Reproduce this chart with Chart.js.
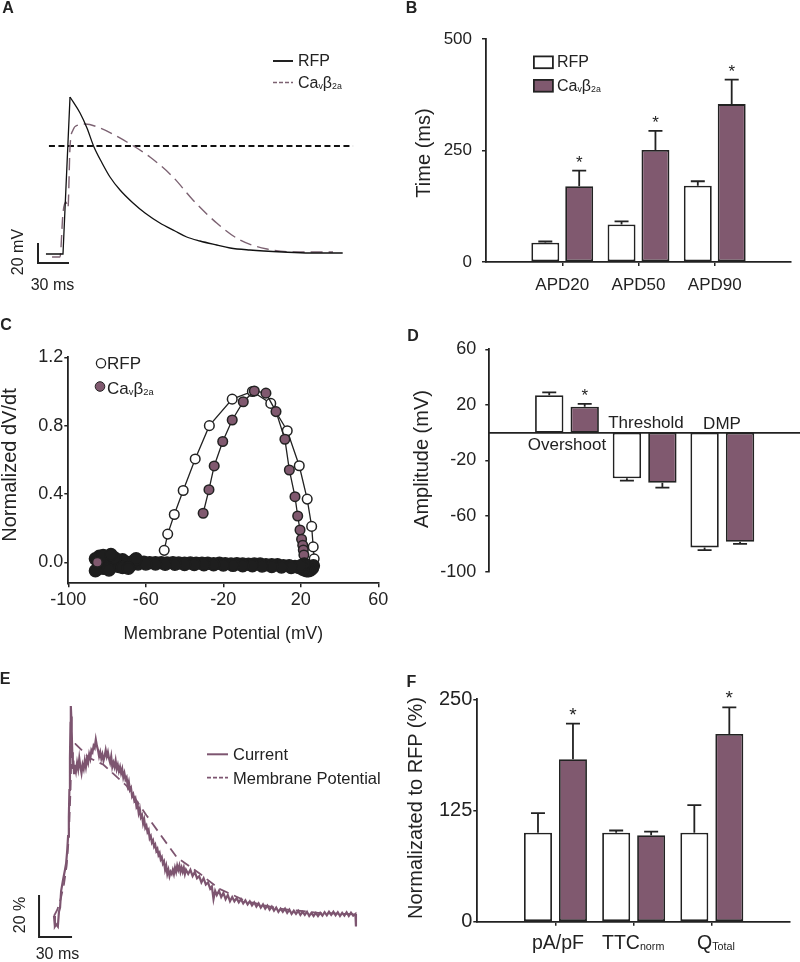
<!DOCTYPE html>
<html>
<head>
<meta charset="utf-8">
<script src="https://cdn.jsdelivr.net/npm/chart.js@4.4.1/dist/chart.umd.min.js"></script>
<style>
  body { margin: 0; background: #fff; }
  #fig { position: relative; width: 800px; height: 962px; overflow: hidden;
         font-family: 'Liberation Sans', Arial, sans-serif; color: #222; }
  #fig canvas { position: absolute; }
  #marks { position: absolute; left: 0; top: 0; pointer-events: none; }
  .t { position: absolute; white-space: nowrap; line-height: 1; }
  .c { transform: translate(-50%, -50%); }
  .rot { transform: translate(-50%, -50%) rotate(-90deg); }
  .lb { transform: translate(0, -50%); }
  .letter { font-weight: bold; font-size: 16px; }
  sub { font-size: 0.55em; line-height: 0; position: relative; top: 0.1em; vertical-align: baseline; }
</style>
</head>
<body>
<div id="fig">
  <canvas id="cA"></canvas>
  <canvas id="cB"></canvas>
  <canvas id="cC"></canvas>
  <canvas id="cD"></canvas>
  <canvas id="cE"></canvas>
  <canvas id="cF"></canvas>

  <svg id="marks" width="800" height="962">
    <!-- A legend -->
    <line x1="273" y1="61" x2="293" y2="61" stroke="#222" stroke-width="2"/>
    <line x1="273" y1="82.5" x2="293" y2="82.5" stroke="#7c6272" stroke-width="1.6" stroke-dasharray="4 2"/>
    <!-- B legend -->
    <rect x="533.9" y="56.4" width="19" height="11.8" fill="#fff" stroke="#222" stroke-width="1.8"/>
    <rect x="533.9" y="79.9" width="19" height="11.8" fill="#80596f" stroke="#222" stroke-width="1.8"/>
    <!-- C legend -->
    <circle cx="101" cy="363.3" r="4.6" fill="#fff" stroke="#222" stroke-width="1.3"/>
    <circle cx="100" cy="386.5" r="4.8" fill="#80596f" stroke="#222" stroke-width="1"/>
    <!-- E legend -->
    <line x1="207" y1="754.3" x2="228" y2="754.3" stroke="#7d5570" stroke-width="2"/>
    <line x1="207" y1="777.7" x2="228" y2="777.7" stroke="#7d5570" stroke-width="1.8" stroke-dasharray="4 2"/>
  </svg>

  <div class="t c letter" style="left:8px;top:8px">A</div>
  <div class="t c letter" style="left:411.5px;top:8px">B</div>
  <div class="t c letter" style="left:6px;top:325px">C</div>
  <div class="t c letter" style="left:413px;top:335.5px">D</div>
  <div class="t c letter" style="left:5px;top:678.5px">E</div>
  <div class="t c letter" style="left:411.5px;top:681.5px">F</div>

  <div class="t lb" style="left:298px;top:61px;font-size:16px">RFP</div>
  <div class="t lb" style="left:298px;top:83px;font-size:16px">Ca<sub>v</sub>β<sub>2a</sub></div>
  <div class="t rot" style="left:17.5px;top:252px;font-size:16px">20 mV</div>
  <div class="t c" style="left:52.5px;top:285px;font-size:16px">30 ms</div>

  <div class="t lb" style="left:557px;top:61.5px;font-size:16px">RFP</div>
  <div class="t lb" style="left:557px;top:86px;font-size:16px">Ca<sub>v</sub>β<sub>2a</sub></div>
  <div class="t rot" style="left:422.5px;top:152.5px;font-size:20px">Time (ms)</div>

  <div class="t lb" style="left:107px;top:363px;font-size:17px">RFP</div>
  <div class="t lb" style="left:107px;top:388px;font-size:17px">Ca<sub>v</sub>β<sub>2a</sub></div>
  <div class="t rot" style="left:9px;top:465px;font-size:20px">Normalized dV/dt</div>
  <div class="t c" style="left:223.3px;top:634px;font-size:17.5px">Membrane Potential (mV)</div>

  <div class="t rot" style="left:421px;top:459px;font-size:20px">Amplitude (mV)</div>
  <div class="t c" style="left:567px;top:444px;font-size:17px">Overshoot</div>
  <div class="t c" style="left:646px;top:422px;font-size:17px">Threshold</div>
  <div class="t c" style="left:722px;top:422.5px;font-size:17px">DMP</div>

  <div class="t lb" style="left:233px;top:754px;font-size:16.5px">Current</div>
  <div class="t lb" style="left:233px;top:778px;font-size:16.5px">Membrane Potential</div>
  <div class="t rot" style="left:20px;top:915px;font-size:16px">20 %</div>
  <div class="t c" style="left:57.5px;top:954px;font-size:16px">30 ms</div>

  <div class="t rot" style="left:415px;top:808px;font-size:20px">Normalizated to RFP (%)</div>
  <div class="t lb" style="left:532px;top:942.5px;font-size:19.5px">pA/pF</div>
  <div class="t lb" style="left:602px;top:942.5px;font-size:19.5px">TTC<sub>norm</sub></div>
  <div class="t lb" style="left:697px;top:942.5px;font-size:19.5px">Q<sub>Total</sub></div>
</div>

<script>
// ---------- data ----------
const PURPLE = '#80596f';
const TRACE = '#7d5570';
const INK = '#222';

// A: action potentials, [ms, mV]; scale bar 30 ms / 20 mV
const aRfp = [[7.7, -80], [24.2, -80], [31, 77], [40.7, 61], [47.4, 46], [54.2, 27], [62, 11],
  [69.7, -3], [79.4, -16], [92, -29], [103.6, -39], [118, -49], [132.6, -57], [144, -63],
  [156.8, -67], [173, -71], [186, -74], [205, -76], [237, -78], [263, -79], [295, -79]];
const aRfpPeak = 2;
const aCa = [[13.6, -83], [21.3, -83], [24.2, -39], [27.1, -28], [29, -34], [31, 27], [33.9, 44],
  [38.7, 49], [45.5, 50], [60, 46], [86, 32], [108.4, 17], [130.7, -3], [150, -26], [173, -49],
  [195.5, -66], [221.7, -75], [253.6, -78], [285.6, -78]];
const aThreshold = [[10.6, 28], [305, 28]];
const aScaleBar = [[0, -69], [0, -89], [30, -89]];

// B: action potential duration (ms)
const bCats = ['APD20', 'APD50', 'APD90'];
const bRfp = [43, 84, 171];
const bRfpErr = [3, 7, 10];
const bCa = [170, 251, 354];
const bCaErr = [35, 43, 55];
const bCaStar = [1, 1, 1];

// C: phase plot, [mV, normalized dV/dt]
const cRfp = [[-50.5, 0.07], [-48.7, 0.165], [-45.3, 0.28], [-40.7, 0.42], [-34.5, 0.605],
  [-27.2, 0.80], [-15.4, 0.955], [-5.0, 1.0], [4.5, 0.93], [13.0, 0.77], [19.2, 0.565],
  [23.3, 0.37], [25.6, 0.21], [26.4, 0.09], [26.9, 0.02]];
const cCa = [[-30.4, 0.287], [-27.4, 0.425], [-24.7, 0.564], [-20.3, 0.707], [-15.4, 0.833],
  [-9.7, 0.94], [-4.0, 1.003], [2.0, 0.99], [7.2, 0.882], [11.8, 0.72], [14.1, 0.54], [17.0, 0.384],
  [18.4, 0.271], [19.6, 0.189], [20.4, 0.135], [21.0, 0.10], [21.3, 0.072], [21.6, 0.043]];
// dense repolarisation points of both cells piled up near zero
const cBand = [[26.5, -0.02], [26, -0.035], [25, -0.045], [24, -0.05], [23, -0.05], [22, -0.045],
  [21, -0.04], [21.8, -0.01], [19, -0.03], [17, -0.025], [14, -0.02], [11, -0.02], [8, -0.015],
  [5, -0.015], [2, -0.015], [-1, -0.01], [-4, -0.01], [-7, -0.012], [-10, -0.01], [-13, -0.008],
  [-16, -0.01], [-19, -0.008], [-22, -0.006], [-25, -0.008], [-28, -0.006], [-31, -0.005],
  [-34, -0.006], [-37, -0.004], [-40, -0.005], [-43, -0.004], [-46, -0.003], [-49, -0.004],
  [-52, -0.002], [-55, -0.003], [-58, -0.002], [-61, 0.0], [-64, -0.01], [-66, 0.01], [-68, -0.02],
  [-70, 0.0], [-72, 0.015], [-74, -0.025], [-76, 0.02], [-78, -0.03], [-80, 0.03], [-82, -0.035],
  [-84, 0.035], [-85, -0.04], [-86, 0.02], [-84, -0.02], [-80, -0.03], [-76, 0.025], [-72, -0.03],
  [20, -0.02], [15, -0.03], [10, -0.028], [5, -0.025], [0, -0.022], [-5, -0.02], [-10, -0.02],
  [-15, -0.018], [-20, -0.016], [-25, -0.015], [-30, -0.015], [-35, -0.013], [-40, -0.013],
  [-45, -0.012], [-50, -0.011], [-55, -0.01], [-60, -0.01], [-65, 0.02], [-69, -0.035],
  [-82, 0.04], [-78, 0.045], [-86, -0.05], [-79, -0.045]];
const cCaRest = [[-85, 0]];
const cTicksY = [0, 0.4, 0.8, 1.2];

// D: amplitudes (mV)
const dCats = ['Overshoot', 'Threshold', 'DMP'];
const dRfp = [27, -32.8, -82.5];
const dRfpErr = [2, 1.7, 2];
const dCa = [18.7, -36, -78.4];
const dCaErr = [2, 3.5, 1.6];
const dCaStar = [1, 0, 0];

// E: current vs membrane potential, [ms, %]
const eMembrane = [[0, 0], [3, 3], [6, 8], [9, 15], [11.5, 24], [13.5, 38], [15, 60], [16, 80],
  [17.5, 82], [19.4, 82], [29, 77], [31, 75.6], [45, 72], [66, 62], [75, 55], [84, 48],
  [111.5, 28], [133, 20], [150, 13], [175, 7], [205, 3.5], [240, 1.5], [275, 0.8]];
const eCurrent = [[0, 0], [0.8, -5], [2, -4], [3.5, -5], [4.5, 2], [5.5, 4], [6.5, 12], [7.5, 15],
  [8.5, 18], [10, 22], [11, 25], [12, 31], [12.8, 38], [13.5, 47], [14, 60], [14.5, 75], [15, 92],
  [15.3, 100], [15.7, 95], [16.1, 88], [16.6, 78], [17.1, 70], [17.6, 74], [18.2, 68], [19, 72],
  [20, 69], [21, 73], [22, 70], [23, 75], [24, 71], [25, 68], [26, 72], [27, 70], [28, 74], [29, 71],
  [30, 75], [31, 73], [32, 77], [33, 75], [34, 79], [35, 78], [36, 81], [37, 80], [38, 84], [39, 81],
  [40, 79], [41, 76], [42, 78], [43, 75], [44, 77], [45, 74], [46, 76], [47, 79], [48, 76], [49, 78],
  [50, 75], [51, 73], [52, 76], [53, 71], [54, 73], [55, 71], [56, 74], [57, 70], [58, 72], [59, 69],
  [60, 71], [61, 68], [62, 70], [63, 66], [64, 68], [65, 65], [66, 66], [67, 62], [68, 64], [69, 60],
  [70, 61], [71, 57], [72, 58], [73, 55], [74, 56], [75, 52], [76, 53], [77, 49], [78, 51], [79, 47],
  [80, 48], [81, 44], [82, 46], [83, 42], [84, 43], [85, 40], [86, 41], [87, 37], [88, 38], [89, 35],
  [90, 36], [91, 33], [92, 34], [93, 31], [94, 32], [95, 29], [96, 30], [97, 27], [98, 28], [99, 25],
  [100, 26], [101, 22], [102, 24], [103, 20], [104, 22], [105, 19], [106, 21], [107, 20], [108, 22],
  [109, 20], [110, 23], [111, 21], [112, 24], [113, 22], [114, 24], [115, 21], [116, 23], [117, 21],
  [118, 23], [119, 20], [120, 22], [122, 20], [124, 22], [126, 19], [128, 21], [130, 18], [132, 19],
  [134, 16], [136, 18], [138, 15], [140, 16], [142, 13], [143.5, 14], [145, 8], [146.5, 12], [148, 10],
  [150, 12], [152, 9], [154, 11], [156, 8], [158, 10], [160, 7], [162, 9], [164, 7], [166, 8.5],
  [168, 6.5], [170, 8], [172, 6], [174, 7.5], [176, 5.5], [178, 7], [180, 5], [182, 6.5], [184, 4.5],
  [186, 6], [188, 4], [190, 5.5], [192, 3.5], [194, 5], [196, 3], [198, 4.5], [200, 2.5], [202, 4],
  [204, 2], [206, 3.5], [208, 2], [210, 3.5], [212, 1.5], [214, 3], [216, 1], [218, 2.5], [220, 1],
  [222, 2.5], [224, 0.5], [226, 2], [228, 0.5], [230, 2], [232, 0], [234, 1.5], [236, 0], [238, 1.5],
  [240, 0], [242, 1.5], [244, 0.2], [246, 1.8], [248, 0.3], [250, 2], [252, 0.5], [254, 2], [256, 0.3],
  [258, 1.8], [260, 0], [262, 1.5], [264, 0.2], [266, 1.8], [268, 0], [270, 1.6], [272, 0.2],
  [274, 1], [274.5, -5]];
const eScaleBar = [[-13.6, 10], [-13.6, -10], [16.4, -10]];

// F: normalized to RFP (%)
const fCats = ['pA/pF', 'TTCnorm', 'QTotal'];
const fRfp = [100, 100, 100];
const fRfpErr = [22, 2.5, 31];
const fCa = [182.6, 97.2, 211];
const fCaErr = [40, 4, 30];
const fCaStar = [1, 0, 1];

// ---------- helpers ----------
Chart.defaults.font.family = "'Liberation Sans', Arial, sans-serif";
Chart.defaults.color = INK;
Chart.defaults.animation = false;

const YW = 60, XH = 40;   // fixed axis box sizes
const xy = pts => pts.map(p => ({ x: p[0], y: p[1] }));
const pad = (arr, fill = null) => [fill, ...arr, fill];
const fixFit = s => { if (s.isHorizontal()) s.height = XH; else s.width = YW; };
const edgeTicks = ctx => (ctx.index === 0 || ctx.index === 4) ? 'rgba(0,0,0,0)' : INK;

// canvas box + wanted chart area (page px) -> layout padding
function place(id, box, area, yw, xh) {
  const cv = document.getElementById(id);
  cv.width = box.w; cv.height = box.h;
  cv.style.left = box.x + 'px'; cv.style.top = box.y + 'px';
  return { left: area.l - box.x - yw, top: area.t - box.y,
           right: box.x + box.w - area.r, bottom: box.y + box.h - area.b - xh };
}

const errorBars = {
  id: 'errorBars',
  afterDatasetsDraw(chart, args, opts) {
    if (!opts.errors) return;
    const ctx = chart.ctx, ys = chart.scales.y;
    ctx.save();
    ctx.strokeStyle = INK; ctx.lineWidth = 1.8;
    chart.data.datasets.forEach((ds, i) => {
      const errs = opts.errors[i] || [];
      const stars = (opts.stars && opts.stars[i]) || [];
      chart.getDatasetMeta(i).data.forEach((bar, j) => {
        const v = ds.data[j], e = errs[j];
        if (v == null || e == null) return;
        const y0 = ys.getPixelForValue(v);
        const y1 = ys.getPixelForValue(v >= 0 ? v + e : v - e);
        ctx.beginPath();
        ctx.moveTo(bar.x, y0); ctx.lineTo(bar.x, y1);
        ctx.moveTo(bar.x - 7, y1); ctx.lineTo(bar.x + 7, y1);
        ctx.stroke();
        if (stars[j]) {
          ctx.fillStyle = INK;
          ctx.font = (opts.starSize || 17) + "px 'Liberation Sans', Arial, sans-serif";
          ctx.textAlign = 'center'; ctx.textBaseline = 'alphabetic';
          ctx.fillText('*', bar.x, y1 - 3);
        }
      });
    });
    ctx.restore();
  }
};

function barChart(id, box, area, cats, rfp, ca, yOpts, xOpts, plug, bp, cp, xInLayout) {
  const common = { borderColor: INK, borderWidth: 1.8, borderSkipped: false,
                   barPercentage: bp, categoryPercentage: cp };
  return new Chart(id, {
    type: 'bar',
    data: {
      labels: pad(cats, ''),
      datasets: [
        Object.assign({ label: 'RFP', data: pad(rfp), backgroundColor: '#fff' }, common),
        Object.assign({ label: 'CaVβ2a', data: pad(ca), backgroundColor: PURPLE }, common)
      ]
    },
    options: {
      responsive: false,
      layout: { padding: place(id, box, area, YW, xInLayout ? XH : 0) },
      plugins: { legend: { display: false }, tooltip: { enabled: false }, errorBars: plug },
      scales: {
        x: Object.assign({
          offset: false, afterFit: fixFit,
          grid: { offset: false, drawOnChartArea: false, tickLength: 4, tickColor: edgeTicks, lineWidth: 1.5 },
          border: { color: INK, width: 1.8 }
        }, xOpts),
        y: Object.assign({
          afterFit: fixFit,
          grid: { drawOnChartArea: false, tickLength: 4, tickColor: INK, lineWidth: 1.5 },
          border: { color: INK, width: 1.8 }
        }, yOpts)
      }
    },
    plugins: [errorBars]
  });
}

// ---------- A ----------
new Chart('cA', {
  type: 'line',
  data: {
    datasets: [
      { data: xy(aRfp.slice(0, aRfpPeak + 1)), borderColor: '#111', borderWidth: 1.3, tension: 0 },
      { data: xy(aRfp.slice(aRfpPeak)), borderColor: '#111', borderWidth: 1.3, cubicInterpolationMode: 'monotone' },
      { data: xy(aCa), borderColor: '#7c6272', borderWidth: 1.4, borderDash: [12, 6], cubicInterpolationMode: 'monotone' },
      { data: xy(aThreshold), borderColor: '#111', borderWidth: 2, borderDash: [6, 3.5] },
      { data: xy(aScaleBar), borderColor: INK, borderWidth: 2, tension: 0 }
    ]
  },
  options: {
    responsive: false,
    layout: { padding: place('cA', { x: 0, y: 0, w: 400, h: 310 }, { l: 38, t: 84, r: 358.2, b: 274 }, 0, 0) },
    elements: { point: { radius: 0 }, line: { fill: false } },
    datasets: { line: { clip: false } },
    plugins: { legend: { display: false }, tooltip: { enabled: false } },
    scales: {
      x: { type: 'linear', min: 0, max: 310, display: false },
      y: { type: 'linear', min: -100, max: 90, display: false }
    }
  }
});

// ---------- B ----------
barChart('cB', { x: 400, y: 0, w: 400, h: 310 }, { l: 486, t: 39, r: 792, b: 262 },
  bCats, bRfp, bCa,
  { min: 0, max: 500, ticks: { stepSize: 250, padding: 10, font: { size: 17 } } },
  { ticks: { autoSkip: false, maxRotation: 0, padding: 9, font: { size: 17 } } },
  { errors: [pad(bRfpErr), pad(bCaErr)], stars: [[], pad(bCaStar)], starSize: 17 },
  0.824, 0.889, true);

// ---------- C ----------
const dot = { showLine: true, borderColor: INK, borderWidth: 1.3, pointRadius: 4.8,
              pointBorderWidth: 1.5, pointBorderColor: INK };
new Chart('cC', {
  type: 'scatter',
  data: {
    datasets: [
      Object.assign({ data: xy(cRfp), pointBackgroundColor: '#fff', order: 3 }, dot),
      Object.assign({ data: xy(cCa), pointBackgroundColor: PURPLE, order: 2 }, dot),
      { data: xy(cBand), pointRadius: 6, pointBorderWidth: 1.5, pointBackgroundColor: '#1e1e1e',
        pointBorderColor: '#1e1e1e', order: 1 },
      { data: xy(cCaRest), pointRadius: 4.8, pointBorderWidth: 1.5, pointBackgroundColor: PURPLE,
        pointBorderColor: INK, order: 0 }
    ]
  },
  options: {
    responsive: false,
    layout: { padding: place('cC', { x: 0, y: 310, w: 400, h: 330 }, { l: 68.3, t: 357.3, r: 378.3, b: 583.3 }, YW, XH) },
    datasets: { scatter: { clip: false } },
    plugins: { legend: { display: false }, tooltip: { enabled: false } },
    scales: {
      x: { type: 'linear', min: -100, max: 60, afterFit: fixFit,
           ticks: { stepSize: 40, padding: 2, font: { size: 18 } },
           grid: { drawOnChartArea: false, tickLength: 4, tickColor: INK, lineWidth: 1.5 },
           border: { color: INK, width: 1.8 } },
      y: { type: 'linear', min: -0.123, max: 1.2, afterFit: fixFit,
           afterBuildTicks: s => { s.ticks = cTicksY.map(v => ({ value: v })); },
           ticks: { padding: 1, font: { size: 18 }, callback: v => v.toFixed(1) },
           grid: { drawOnChartArea: false, tickLength: 4, tickColor: INK, lineWidth: 1.5 },
           border: { color: INK, width: 1.8 } }
    }
  }
});

// ---------- D ----------
barChart('cD', { x: 400, y: 310, w: 400, h: 330 }, { l: 489.3, t: 349.3, r: 800, b: 571.7 },
  dCats, dRfp, dCa,
  { min: -100, max: 60, ticks: { stepSize: 40, padding: 9, font: { size: 18 } } },
  { position: { y: 0 }, ticks: { display: false }, grid: { display: false } },
  { errors: [pad(dRfpErr), pad(dCaErr)], stars: [[], pad(dCaStar)], starSize: 17 },
  0.80, 0.913, false);

// ---------- E ----------
new Chart('cE', {
  type: 'line',
  data: {
    datasets: [
      { data: xy(eCurrent), borderColor: TRACE, borderWidth: 2.2, tension: 0, order: 1 },
      { data: xy(eMembrane), borderColor: TRACE, borderWidth: 1.8, borderDash: [10, 6], tension: 0, order: 2 },
      { data: xy(eScaleBar), borderColor: INK, borderWidth: 2, tension: 0, order: 0 }
    ]
  },
  options: {
    responsive: false,
    layout: { padding: place('cE', { x: 0, y: 640, w: 400, h: 322 }, { l: 38.6, t: 685, r: 373, b: 941.2 }, 0, 0) },
    elements: { point: { radius: 0 } },
    datasets: { line: { clip: false } },
    plugins: { legend: { display: false }, tooltip: { enabled: false } },
    scales: {
      x: { type: 'linear', min: -14, max: 290, display: false },
      y: { type: 'linear', min: -12, max: 110, display: false }
    }
  }
});

// ---------- F ----------
barChart('cF', { x: 400, y: 640, w: 400, h: 322 }, { l: 477.3, t: 699.3, r: 790, b: 921.7 },
  fCats, fRfp, fCa,
  { min: 0, max: 250, ticks: { stepSize: 125, padding: 1, font: { size: 20 } } },
  { ticks: { display: false } },
  { errors: [pad(fRfpErr), pad(fCaErr)], stars: [[], pad(fCaStar)], starSize: 19 },
  0.80, 0.895, true);
</script>
</body>
</html>
